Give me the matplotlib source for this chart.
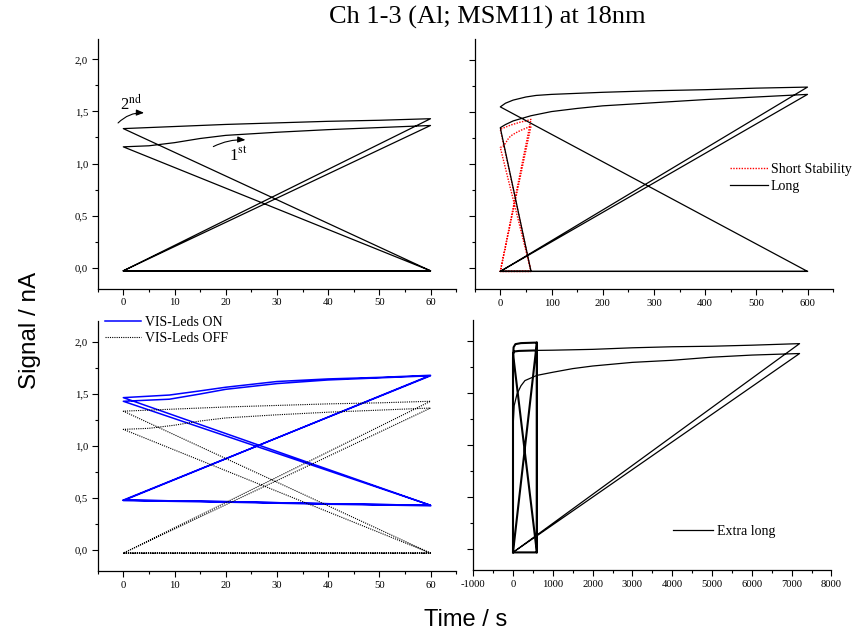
import matplotlib
matplotlib.use("Agg")
import matplotlib.pyplot as plt
from matplotlib.ticker import MultipleLocator, FuncFormatter

plt.rcParams["font.family"] = ["Liberation Serif", "DejaVu Serif"]
plt.rcParams["mathtext.fontset"] = "stix"
plt.rcParams["axes.unicode_minus"] = False

# ── Datos ──────────────────────────────────────────────────────────────────────
# Ciclos cortos de 60 s (oscuridad -> luz -> oscuridad ...)
SHORT_T = [0, 60,
           0, 5, 10, 15, 20, 30, 40, 50, 60,
           0, 60,
           0, 10, 20, 30, 40, 50, 60,
           0, 60]
SHORT_S = [-0.03, -0.03,
           1.16, 1.17, 1.20, 1.24, 1.27, 1.30, 1.325, 1.345, 1.365,
           -0.03, -0.03,
           1.335, 1.355, 1.375, 1.39, 1.405, 1.415, 1.43,
           -0.03, -0.03]

# Ciclos largos de 600 s
LONG_T = [0, 60,
          0, 10, 25, 60, 100, 150, 200, 300, 400, 500, 600,
          0, 600,
          0, 10, 25, 50, 70, 100, 200, 300, 400, 500, 600,
          0, 600]
LONG_S = [-0.03, -0.03,
          1.35, 1.38, 1.415, 1.465, 1.505, 1.535, 1.56, 1.59, 1.62, 1.645, 1.67,
          -0.03, -0.03,
          1.55, 1.585, 1.615, 1.645, 1.66, 1.67, 1.69, 1.705, 1.715, 1.73, 1.74,
          -0.03, -0.03]

# LEDs visibles encendidos (60 s)
VIS_T = [0, 20, 40, 60,
         0, 9, 15, 20, 30, 40, 50, 60,
         0, 20, 40, 60,
         0, 9, 15, 20, 30, 40, 50, 60,
         0, 20, 40, 60]
VIS_S = [0.48, 0.465, 0.445, 0.43,
         1.43, 1.45, 1.50, 1.545, 1.60, 1.635, 1.655, 1.675,
         0.48, 0.465, 0.445, 0.43,
         1.465, 1.49, 1.53, 1.565, 1.62, 1.645, 1.66, 1.68,
         0.475, 0.46, 0.44, 0.425]

# Extra largo: primeros ciclos de 600 s (trazo grueso) + ciclos de 7200 s
EL_LOOP_T = [0, 0, 15, 60, 200, 600, 600, 0, 600, 600, 0, 40, 150, 600]
EL_LOOP_S = [-0.03, 1.84, 1.94, 1.97, 1.98, 1.985, -0.03, -0.03, 1.985,
             -0.03, 1.88, 1.90, 1.905, 1.91]
EL_T = [600, 1000, 2000, 3000, 4000, 5000, 6000, 7200,
        0, 5, 30, 100, 200, 300, 600, 1000, 1500, 2000, 3000, 4000, 5000, 6000, 7200,
        0]
EL_S = [1.91, 1.912, 1.92, 1.935, 1.945, 1.95, 1.96, 1.975,
        -0.03, 1.20, 1.38, 1.49, 1.57, 1.62, 1.67, 1.70, 1.735, 1.76, 1.795, 1.815,
        1.845, 1.865, 1.88,
        -0.03]

W, H = 858, 636


def rect(x0, x1, y_top, y_bot):
    return [x0 / W, 1 - y_bot / H, (x1 - x0) / W, (y_bot - y_top) / H]


def estilo(ax, xlim, xmaj, xmin, ylabels=True):
    ax.set_xlim(*xlim)
    ax.set_ylim(-0.2, 2.2)
    for s in ("top", "right"):
        ax.spines[s].set_visible(False)
    for s in ("left", "bottom"):
        ax.spines[s].set_linewidth(0.9)
    ax.xaxis.set_major_locator(MultipleLocator(xmaj))
    ax.xaxis.set_minor_locator(MultipleLocator(xmin))
    ax.yaxis.set_major_locator(MultipleLocator(0.5))
    ax.yaxis.set_minor_locator(MultipleLocator(0.25))
    ax.yaxis.set_major_formatter(FuncFormatter(lambda v, p: f"{v:.1f}".replace(".", ",")))
    ax.xaxis.set_major_formatter(FuncFormatter(lambda v, p: f"{v:.0f}"))
    ax.tick_params(which="both", direction="out", labelsize=7.7, pad=2.5, width=0.8)
    ax.tick_params(which="major", length=4.5)
    ax.tick_params(which="minor", length=2.5)
    if not ylabels:
        ax.tick_params(axis="y", labelleft=False)


fig = plt.figure(figsize=(W / 100, H / 100), dpi=100)

ax_tl = fig.add_axes(rect(97.7, 456.1, 38.5, 288.5))
ax_tr = fig.add_axes(rect(474.7, 833.1, 39.2, 289.1))
ax_bl = fig.add_axes(rect(97.7, 456.1, 321.2, 570.8))
ax_br = fig.add_axes(rect(473.2, 831.4, 320.2, 570.1))

# ── Arriba izquierda: ciclos cortos ───────────────────────────────────────────
ax_tl.plot(SHORT_T, SHORT_S, color="black", lw=0.9)
estilo(ax_tl, (-5, 65), 10, 5)
ax_tl.annotate("", xy=(4.6, 1.485), xytext=(-1.4, 1.37),
               arrowprops=dict(arrowstyle="-|>,head_length=0.45,head_width=0.18",
                               color="black", lw=0.8,
                               connectionstyle="arc3,rad=-0.25"))
ax_tl.text(-0.6, 1.57, r"2$^{\rm nd}$", fontsize=12, ha="left", va="center")
ax_tl.annotate("", xy=(24.4, 1.225), xytext=(17.1, 1.15),
               arrowprops=dict(arrowstyle="-|>,head_length=0.45,head_width=0.18",
                               color="black", lw=0.8,
                               connectionstyle="arc3,rad=-0.15"))
ax_tl.text(20.6, 1.07, r"1$^{\rm st}$", fontsize=12, ha="left", va="center")

# ── Arriba derecha: corto vs largo ────────────────────────────────────────────
ax_tr.plot(SHORT_T, SHORT_S, color="red", lw=1.0, ls=(0, (1, 1)), label="Short Stability")
ax_tr.plot(LONG_T, LONG_S, color="black", lw=0.9, label="Long")
estilo(ax_tr, (-50, 650), 100, 50, ylabels=False)
ax_tr.legend(loc="center left", bbox_to_anchor=(730 / W, 1 - 178 / H),
             bbox_transform=fig.transFigure, frameon=False, fontsize=10,
             handlelength=2.7, handletextpad=0.25, borderpad=0, borderaxespad=0,
             labelspacing=0.25)

# ── Abajo izquierda: LEDs visibles ON / OFF ───────────────────────────────────
ax_bl.plot(VIS_T, VIS_S, color="#0000ff", lw=1.1, label="VIS-Leds ON")
ax_bl.plot(SHORT_T, SHORT_S, color="black", lw=0.8, ls=(0, (1, 1)), label="VIS-Leds OFF")
estilo(ax_bl, (-5, 65), 10, 5)
ax_bl.legend(loc="center left", bbox_to_anchor=(105 / W, 1 - 330.5 / H),
             bbox_transform=fig.transFigure, frameon=False, fontsize=10,
             handlelength=2.6, handletextpad=0.25, borderpad=0, borderaxespad=0,
             labelspacing=0.25)

# ── Abajo derecha: extra largo ────────────────────────────────────────────────
ax_br.plot(EL_LOOP_T, EL_LOOP_S, color="black", lw=1.5)
ax_br.plot(EL_T, EL_S, color="black", lw=0.9, label="Extra long")
estilo(ax_br, (-1000, 8000), 1000, 500, ylabels=False)
ax_br.legend(loc="center left", bbox_to_anchor=(673 / W, 1 - 531 / H),
             bbox_transform=fig.transFigure, frameon=False, fontsize=10,
             handlelength=2.9, handletextpad=0.25, borderpad=0, borderaxespad=0)

# ── Textos generales ─────────────────────────────────────────────────────────
fig.text(487 / W, 1 - 17 / H, "Ch 1-3 (Al; MSM11) at 18nm", fontsize=19,
         ha="center", va="center")
fig.text(30 / W, 1 - 330 / H, "Signal / nA", fontsize=17.5, rotation=90,
         ha="center", va="center", family="Liberation Sans")
fig.text(466 / W, 1 - 620 / H, "Time / s", fontsize=17, ha="center", va="center",
         family="Liberation Sans")

fig.savefig("out.png", dpi=100)
